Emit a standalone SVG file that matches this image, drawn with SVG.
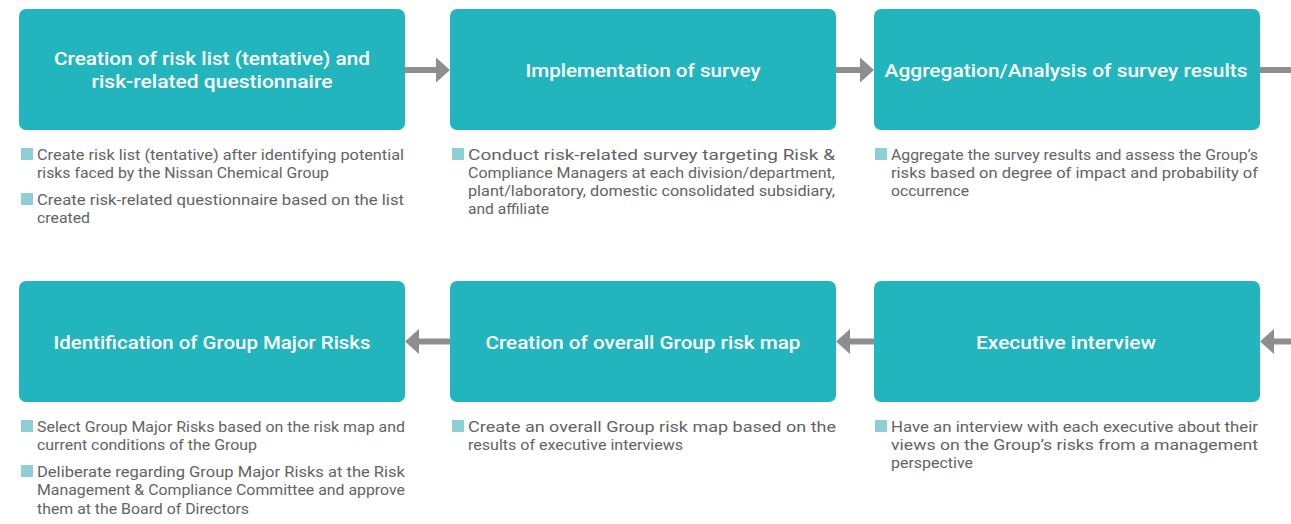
<svg xmlns="http://www.w3.org/2000/svg" width="1291" height="524" viewBox="0 0 1291 524">
<style>
.box{fill:#22b5bd}
.ttl{font-family:Roboto,"Liberation Sans",sans-serif;font-weight:500;font-size:19px;fill:#ffffff}
.txt{font-family:Roboto,"Liberation Sans",sans-serif;font-size:15px;fill:#636363}
.blt{fill:#8ccfd5}
.arr{fill:#8e8e91}
</style>
<rect width="1291" height="524" fill="#ffffff"/>
<g id="connectors">
<path class="arr" d="M405,67H436V57.5L450,70L436,82.5V73H405Z"/>
<path class="arr" d="M836,67H860V57.5L874,70L860,82.5V73H836Z"/>
<rect class="arr" x="1260" y="67" width="31" height="6"/>
<path class="arr" d="M1291,338.5H1274V329L1260,341.5L1274,354V344.5H1291Z"/>
<path class="arr" d="M874,338.5H850V329L836,341.5L850,354V344.5H874Z"/>
<path class="arr" d="M450,338.5H419V329L405,341.5L419,354V344.5H450Z"/>
</g>
<g id="node1">
<rect class="box" x="19" y="9" width="386" height="121" rx="7"/>
<text class="ttl" x="212" y="65" text-anchor="middle" textLength="316" lengthAdjust="spacingAndGlyphs">Creation of risk list (tentative) and</text>
<text class="ttl" x="212" y="88" text-anchor="middle" textLength="241" lengthAdjust="spacingAndGlyphs">risk-related questionnaire</text>
<rect class="blt" x="21" y="148" width="12" height="12"/>
<text class="txt" x="37" y="160" textLength="367" lengthAdjust="spacingAndGlyphs">Create risk list (tentative) after identifying potential</text>
<text class="txt" x="37" y="178" textLength="292" lengthAdjust="spacingAndGlyphs">risks faced by the Nissan Chemical Group</text>
<rect class="blt" x="21" y="193" width="12" height="12"/>
<text class="txt" x="37" y="205" textLength="367" lengthAdjust="spacingAndGlyphs">Create risk-related questionnaire based on the list</text>
<text class="txt" x="37" y="223" textLength="53" lengthAdjust="spacingAndGlyphs">created</text>
</g>
<g id="node2">
<rect class="box" x="450" y="9" width="386" height="121" rx="7"/>
<text class="ttl" x="643" y="77" text-anchor="middle" textLength="235" lengthAdjust="spacingAndGlyphs">Implementation of survey</text>
<rect class="blt" x="452" y="148" width="12" height="12"/>
<text class="txt" x="468" y="160" textLength="367" lengthAdjust="spacingAndGlyphs">Conduct risk-related survey targeting Risk &amp;</text>
<text class="txt" x="468" y="178" textLength="367" lengthAdjust="spacingAndGlyphs">Compliance Managers at each division/department,</text>
<text class="txt" x="468" y="196" textLength="367" lengthAdjust="spacingAndGlyphs">plant/laboratory, domestic consolidated subsidiary,</text>
<text class="txt" x="468" y="214" textLength="81" lengthAdjust="spacingAndGlyphs">and affiliate</text>
</g>
<g id="node3">
<rect class="box" x="874" y="9" width="386" height="121" rx="7"/>
<text class="ttl" x="1066" y="77" text-anchor="middle" textLength="363" lengthAdjust="spacingAndGlyphs">Aggregation/Analysis of survey results</text>
<rect class="blt" x="875" y="148" width="12" height="12"/>
<text class="txt" x="891" y="160" textLength="367" lengthAdjust="spacingAndGlyphs">Aggregate the survey results and assess the Group’s</text>
<text class="txt" x="891" y="178" textLength="367" lengthAdjust="spacingAndGlyphs">risks based on degree of impact and probability of</text>
<text class="txt" x="891" y="196" textLength="78" lengthAdjust="spacingAndGlyphs">occurrence</text>
</g>
<g id="node4">
<rect class="box" x="19" y="281" width="386" height="121" rx="7"/>
<text class="ttl" x="212" y="349" text-anchor="middle" textLength="317" lengthAdjust="spacingAndGlyphs">Identification of Group Major Risks</text>
<rect class="blt" x="21" y="420" width="12" height="12"/>
<text class="txt" x="37" y="432" textLength="368" lengthAdjust="spacingAndGlyphs">Select Group Major Risks based on the risk map and</text>
<text class="txt" x="37" y="450" textLength="220" lengthAdjust="spacingAndGlyphs">current conditions of the Group</text>
<rect class="blt" x="21" y="465" width="12" height="12"/>
<text class="txt" x="37" y="477" textLength="368" lengthAdjust="spacingAndGlyphs">Deliberate regarding Group Major Risks at the Risk</text>
<text class="txt" x="37" y="495" textLength="368" lengthAdjust="spacingAndGlyphs">Management &amp; Compliance Committee and approve</text>
<text class="txt" x="37" y="514" textLength="212" lengthAdjust="spacingAndGlyphs">them at the Board of Directors</text>
</g>
<g id="node5">
<rect class="box" x="450" y="281" width="386" height="121" rx="7"/>
<text class="ttl" x="643" y="349" text-anchor="middle" textLength="315" lengthAdjust="spacingAndGlyphs">Creation of overall Group risk map</text>
<rect class="blt" x="452" y="420" width="12" height="12"/>
<text class="txt" x="468" y="432" textLength="368" lengthAdjust="spacingAndGlyphs">Create an overall Group risk map based on the</text>
<text class="txt" x="468" y="450" textLength="215" lengthAdjust="spacingAndGlyphs">results of executive interviews</text>
</g>
<g id="node6">
<rect class="box" x="874" y="281" width="386" height="121" rx="7"/>
<text class="ttl" x="1066" y="349" text-anchor="middle" textLength="180" lengthAdjust="spacingAndGlyphs">Executive interview</text>
<rect class="blt" x="875" y="420" width="12" height="12"/>
<text class="txt" x="891" y="432" textLength="367" lengthAdjust="spacingAndGlyphs">Have an interview with each executive about their</text>
<text class="txt" x="891" y="450" textLength="367" lengthAdjust="spacingAndGlyphs">views on the Group’s risks from a management</text>
<text class="txt" x="891" y="468" textLength="82" lengthAdjust="spacingAndGlyphs">perspective</text>
</g>
</svg>
